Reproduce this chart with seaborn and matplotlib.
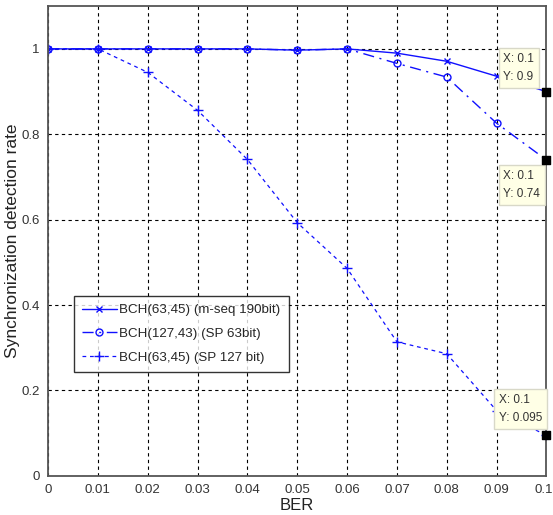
import numpy as np
import pandas as pd
import matplotlib
matplotlib.use("Agg")
import matplotlib.pyplot as plt
import matplotlib.transforms as mtransforms
import seaborn as sns

# ==========================================
# DATA
# ==========================================

ber = [0, 0.01, 0.02, 0.03, 0.04, 0.05, 0.06, 0.07, 0.08, 0.09, 0.1]

mseq_190 = [1, 1, 1, 1, 1, 0.997, 1, 0.99, 0.971, 0.936, 0.9]
sp_63 = [1, 1, 1, 1, 1, 0.997, 1, 0.966, 0.934, 0.826, 0.74]
sp_127 = [1, 1, 0.945, 0.856, 0.741, 0.593, 0.486, 0.314, 0.286, 0.153, 0.095]

series_names = [
    "BCH(63,45) (m-seq 190bit)",
    "BCH(127,43) (SP 63bit)",
    "BCH(63,45) (SP 127 bit)",
]

x_ticks = [0, 0.01, 0.02, 0.03, 0.04, 0.05, 0.06, 0.07, 0.08, 0.09, 0.1]
x_tick_labels = ["0", "0.01", "0.02", "0.03", "0.04", "0.05",
                 "0.06", "0.07", "0.08", "0.09", "0.1"]
y_ticks = [0, 0.2, 0.4, 0.6, 0.8, 1]
y_tick_labels = ["0", "0.2", "0.4", "0.6", "0.8", "1"]

tip_x = [0.1, 0.1, 0.1]
tip_y = [0.9, 0.74, 0.095]
tip_text = ["X: 0.1\nY: 0.9", "X: 0.1\nY: 0.74", "X: 0.1\nY: 0.095"]

# ==========================================
# PLOT
# ==========================================

sns.set_style("white")
plt.rcParams['font.family'] = ['Liberation Sans', 'DejaVu Sans']

fig = plt.figure(figsize=(5.53, 5.15), dpi=100)
ax = fig.add_axes([0.087, 0.076, 0.901, 0.912])

blue = "#1010ff"

sns.lineplot(x=ber, y=mseq_190, ax=ax, color=blue, linewidth=1.0,
             linestyle="-", marker="x", markersize=4,
             markeredgecolor=blue, markeredgewidth=1,
             label=series_names[0])
sns.lineplot(x=ber, y=sp_63, ax=ax, color=blue, linewidth=1.0,
             dashes=(8, 4, 1.5, 4), marker="o", markersize=5,
             markerfacecolor="none", markeredgecolor=blue, markeredgewidth=1,
             label=series_names[1])
sns.lineplot(x=ber, y=sp_127, ax=ax, color=blue, linewidth=0.9,
             dashes=(3, 3), marker="+", markersize=7,
             markeredgecolor=blue, markeredgewidth=1,
             label=series_names[2])

ax.set_xlim(0, 0.1)
ax.set_ylim(0, 1.1)
ax.set_xticks(x_ticks)
ax.set_xticklabels(x_tick_labels)
ax.set_yticks(y_ticks)
ax.set_yticklabels(y_tick_labels)
ax.tick_params(axis="both", labelsize=9.5, colors="#333333", length=0, pad=6)

# last x label sits on the figure edge, nudge it in a little
last = ax.get_xticklabels()[-1]
last.set_transform(last.get_transform() +
                   mtransforms.ScaledTranslation(-3 / 100, 0, fig.dpi_scale_trans))

ax.grid(True, color="black", linestyle=(0, (3, 3)), linewidth=0.8)
for s in ax.spines.values():
    s.set_color("#555555")
    s.set_linewidth(1.3)

ax.set_xlabel("BER", fontsize=12, color="#222222", labelpad=1)
ax.set_ylabel("Synchronization detection rate", fontsize=12.5,
              color="#222222")
ax.yaxis.set_label_coords(-0.056, 0.5)

leg = ax.legend(loc="upper left", bbox_to_anchor=(0.052, 0.383),
                frameon=True, fancybox=False, fontsize=9.6,
                handlelength=2.6, handletextpad=0.2, borderpad=0.6,
                labelspacing=0.85, borderaxespad=0)
leg.get_frame().set_edgecolor("black")
leg.get_frame().set_linewidth(1.0)

# data tips
ax.scatter(tip_x, tip_y, marker="s", s=40, color="black", zorder=7,
           clip_on=False)
tip_offsets = [(-31, 6), (-31, -7), (-34, 8)]
for tx, ty, txt, off in zip(tip_x, tip_y, tip_text, tip_offsets):
    ax.annotate(txt, xy=(tx, ty), xytext=off, textcoords="offset points",
                fontsize=8.5, color="#333333", ha="left",
                va="bottom" if off[1] > 0 else "top", linespacing=1.7,
                bbox=dict(boxstyle="square,pad=0.4", facecolor="#ffffe6",
                          edgecolor="#d8d8c8", linewidth=1.0),
                annotation_clip=False, zorder=6)

fig.savefig("out.png", dpi=100)
